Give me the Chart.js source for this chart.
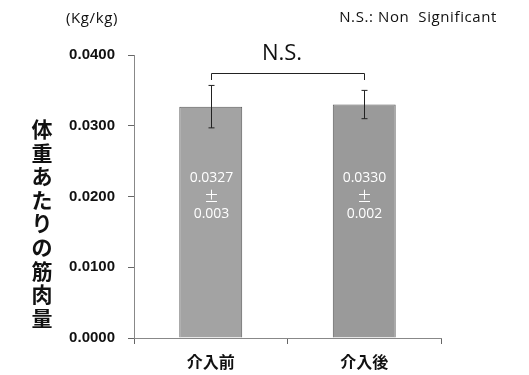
<!DOCTYPE html>
<html><head><meta charset="utf-8">
<script src="https://cdn.jsdelivr.net/npm/chart.js@4/dist/chart.umd.min.js"></script>
<style>html,body{margin:0;padding:0;background:#fff}#w{width:529px;height:375px}</style>
</head><body><div id="w"><canvas id="c" width="529" height="375"></canvas></div>
<script>
const categories = ['介入前', '介入後'];
const means = [0.0327, 0.0330];
const sds = [0.003, 0.002];
const meanLabels = ['0.0327', '0.0330'];
const sdLabels = ['0.003', '0.002'];
const yTicks = [0, 0.01, 0.02, 0.03, 0.04];
const yTitle = '体重あたりの筋肉量';
const unitLabel = '(Kg/kg)';
const noteLabel = 'N.S.: Non  Significant';
const sigLabel = 'N.S.';

const JP = '"Noto Sans CJK JP", sans-serif';

const overlay = {
  id: 'overlay',
  afterDatasetsDraw(chart) {
    const ctx = chart.ctx, x = chart.scales.x, y = chart.scales.y;
    ctx.save();
    ctx.strokeStyle = '#222'; ctx.lineWidth = 1;
    means.forEach((m, i) => {
      const cx = Math.round(x.getPixelForValue(i)) + 0.5;
      const yt = y.getPixelForValue(m + sds[i]), yb = y.getPixelForValue(m - sds[i]);
      ctx.beginPath();
      ctx.moveTo(cx, yt); ctx.lineTo(cx, yb);
      ctx.moveTo(cx - 3, yt); ctx.lineTo(cx + 3, yt);
      ctx.moveTo(cx - 3, yb); ctx.lineTo(cx + 3, yb);
      ctx.stroke();
      ctx.fillStyle = '#fff'; ctx.textAlign = 'center'; ctx.textBaseline = 'middle';
      ctx.font = '14px "Open Sans", sans-serif';
      ctx.fillText(meanLabels[i], cx, 178);
      ctx.font = '15px ' + JP;
      ctx.fillText('±', cx, 196);
      ctx.font = '14px "Open Sans", sans-serif';
      ctx.fillText(sdLabels[i], cx, 214);
    });
    const x0 = Math.round(x.getPixelForValue(0)) + 0.5, x1 = Math.round(x.getPixelForValue(1)) + 0.5;
    ctx.strokeStyle = '#222';
    ctx.beginPath();
    ctx.moveTo(x0, 80); ctx.lineTo(x0, 73.5); ctx.lineTo(x1, 73.5); ctx.lineTo(x1, 80);
    ctx.stroke();
    ctx.fillStyle = '#111'; ctx.textAlign = 'center'; ctx.textBaseline = 'middle';
    ctx.font = '22px "Open Sans", sans-serif';
    ctx.fillText(sigLabel, 282, 54);
    ctx.font = '15px "Open Sans", sans-serif';
    ctx.letterSpacing = '0.6px';
    ctx.textAlign = 'left';
    ctx.fillText(unitLabel, 66, 19);
    ctx.textAlign = 'right';
    ctx.fillText(noteLabel, 497, 18);
    ctx.letterSpacing = '0px';
    ctx.font = 'bold 21px ' + JP;
    ctx.textAlign = 'center';
    Array.from(yTitle).forEach((ch, k) => ctx.fillText(ch, 42, 129 + k * 23.6));
    ctx.restore();
  }
};

new Chart(document.getElementById('c'), {
  type: 'bar',
  data: {
    labels: categories,
    datasets: [{
      data: means,
      backgroundColor: ['#a3a3a3', '#9a9a9a'],
      borderColor: '#5a5a5a',
      borderWidth: 1,
      categoryPercentage: 1,
      barPercentage: 0.41
    }]
  },
  options: {
    responsive: false,
    animation: false,
    devicePixelRatio: 1,
    layout: { padding: { left: 0, right: 88, top: 55, bottom: 0 } },
    plugins: { legend: { display: false }, tooltip: { enabled: false } },
    scales: {
      y: {
        min: 0, max: 0.04,
        afterBuildTicks(s) { s.ticks = yTicks.map(v => ({ value: v })); },
        afterFit(s) { s.width = 134; },
        border: { color: '#888', width: 1 },
        grid: { drawOnChartArea: false, drawTicks: true, tickLength: 6, color: '#666' },
        ticks: {
          padding: 13,
          color: '#111',
          font: { family: '"Liberation Sans", Arial, sans-serif', size: 15, weight: 'bold' },
          callback: v => v.toFixed(4)
        }
      },
      x: {
        afterFit(s) { s.height = 37; },
        border: { color: '#888', width: 1 },
        grid: { drawOnChartArea: false, drawTicks: true, tickLength: 6, color: '#666', offset: true },
        ticks: {
          padding: 8,
          color: '#111',
          font: { family: JP, size: 16, weight: 'bold' }
        }
      }
    }
  },
  plugins: [overlay]
});
</script>
</body></html>
